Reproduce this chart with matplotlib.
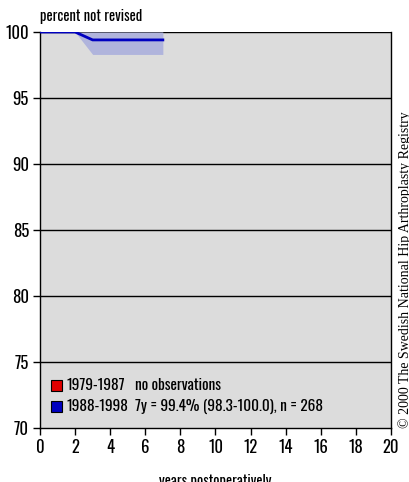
import matplotlib.pyplot as plt
from matplotlib.patches import Rectangle

years = [0, 2, 3, 7]
survival = [100.0, 100.0, 99.4, 99.4]
ci_low = [100.0, 100.0, 98.3, 98.3]
ci_high = [100.0, 100.0, 100.0, 100.0]

legend_periods = ["1979-1987", "1988-1998"]
legend_notes = ["no observations", "7y = 99.4% (98.3-100.0), n = 268"]
legend_colors = ["#e00000", "#0000c0"]

yticks = [70, 75, 80, 85, 90, 95, 100]
xticks = list(range(0, 21, 2))

plt.rcParams["font.family"] = ["Oswald", "Roboto Condensed", "DejaVu Sans"]

fig = plt.figure(figsize=(4.1, 4.82), dpi=100)
ax = fig.add_axes((40 / 410, 1 - 428 / 482, 351 / 410, 396 / 482))
ax.set_facecolor("#dcdcdc")
ax.set_xlim(0, 20)
ax.set_ylim(70, 100)

for y in yticks[1:]:
    ax.axhline(y, color="black", lw=1.0, zorder=1)

ax.fill_between(years, ci_low, ci_high, color="#b0b4dc", lw=0, zorder=2)
ax.plot(years, survival, color="#0000c0", lw=2, zorder=3)

ax.spines["top"].set_visible(False)
for s in ["left", "bottom", "right"]:
    ax.spines[s].set_linewidth(1.0)

ax.set_yticks(yticks)
ax.set_xticks(xticks)
ax.tick_params(length=5, width=1, labelsize=12, pad=3)

ax.text(0, 101.15, "percent not revised", fontsize=10.5,
        ha="left", va="center")
ax.set_xlabel("years postoperatively", fontsize=10.5, labelpad=13)

for i, (per, note, col) in enumerate(zip(legend_periods, legend_notes, legend_colors)):
    yy = 73.2 - i * 1.55
    ax.add_patch(Rectangle((0.63, yy - 0.41), 0.62, 0.82, facecolor=col,
                           edgecolor="black", lw=0.8, zorder=4))
    ax.text(1.52, yy, per, fontsize=11, va="center", ha="left")
    ax.text(5.4, yy, note, fontsize=11, va="center", ha="left")

fig.text(405 / 410, 1 - 428 / 482, "\u00a9 2000 The Swedish National Hip Arthroplasty Registry",
         rotation=90, fontsize=10, family="Liberation Serif",
         ha="center", va="bottom")

fig.savefig("out.png", dpi=100)
